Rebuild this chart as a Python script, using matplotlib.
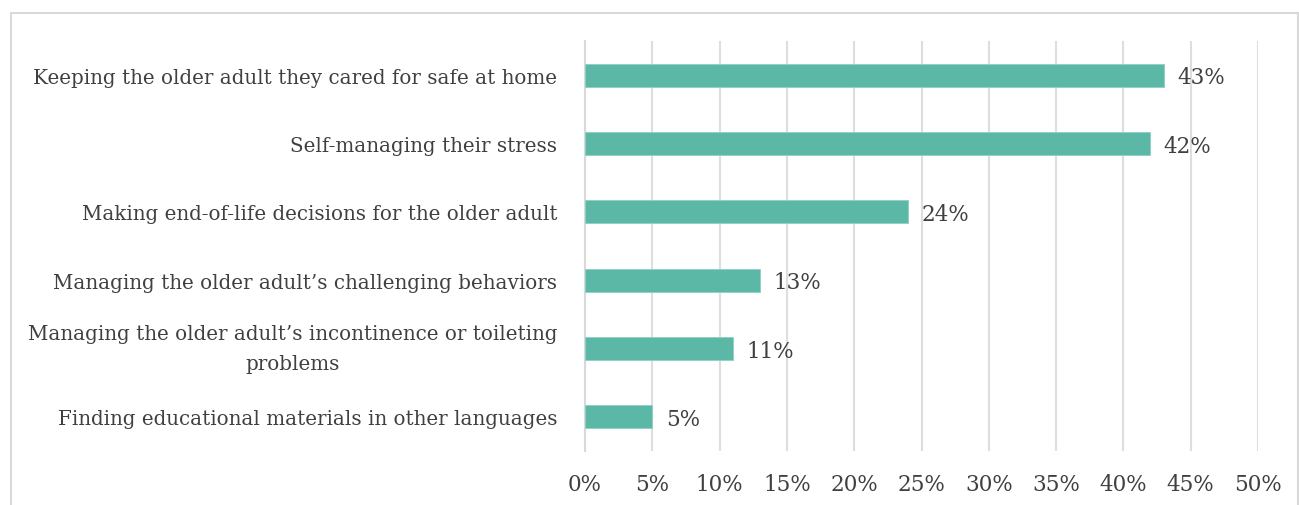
import matplotlib
matplotlib.use("Agg")
import matplotlib.pyplot as plt
from matplotlib.patches import Rectangle

categories = [
    "Keeping the older adult they cared for safe at home",
    "Self-managing their stress",
    "Making end-of-life decisions for the older adult",
    "Managing the older adult\u2019s challenging behaviors",
    "Managing the older adult\u2019s incontinence or toileting\nproblems",
    "Finding educational materials in other languages",
]
values = [43, 42, 24, 13, 11, 5]
xticks = [0, 5, 10, 15, 20, 25, 30, 35, 40, 45, 50]
xtick_labels = [f"{t}%" for t in xticks]

W, H = 1299, 506
plt.rcParams['font.family'] = ['DejaVu Serif']
fig = plt.figure(figsize=(W / 100, H / 100), dpi=100)

# outer border
fig.patches.append(Rectangle((11 / W, -0.1), (1298 - 11) / W, 0.1 + (506 - 14) / H,
                             transform=fig.transFigure, fill=False,
                             edgecolor='#d9d9d9', linewidth=1.5))

ax = fig.add_axes([585 / W, (506 - 452) / H, (1258 - 585) / W, (452 - 42) / H])
txt = '#404040'
bar_color = '#5BB8A6'
fs = 15.5
fs_cat = 14.3
y = list(range(len(categories)))
ax.barh(y, values, height=0.34, color=bar_color, edgecolor='#8fd0c2', linewidth=0.6, zorder=3)
ax.set_ylim(len(categories) - 0.5, -0.5)
ax.set_xlim(0, 50)
ax.set_xticks(xticks)
ax.set_xticklabels(xtick_labels, fontsize=fs, color=txt)
ax.set_yticks(y)
ax.set_yticklabels(categories, fontsize=fs_cat, color=txt, ha='right',
                   multialignment='center', linespacing=1.7)
for lab in ax.get_yticklabels():
    if "\n" in lab.get_text():
        lab.set_verticalalignment('center')
ax.tick_params(axis='y', length=0, pad=20)
ax.tick_params(axis='x', length=0, pad=16)
for s in ['top', 'right', 'bottom']:
    ax.spines[s].set_visible(False)
ax.spines['left'].set_color('#d9d9d9')
ax.spines['left'].set_linewidth(1.5)
ax.xaxis.grid(True, color='#dedede', linewidth=1.5, zorder=0)
ax.set_axisbelow(True)

for yi, v in zip(y, values):
    ax.text(v + 1.0, yi + 0.03, f"{v}%", va='center', ha='left', fontsize=fs, color=txt, zorder=4)

fig.savefig("out.png", dpi=100)
